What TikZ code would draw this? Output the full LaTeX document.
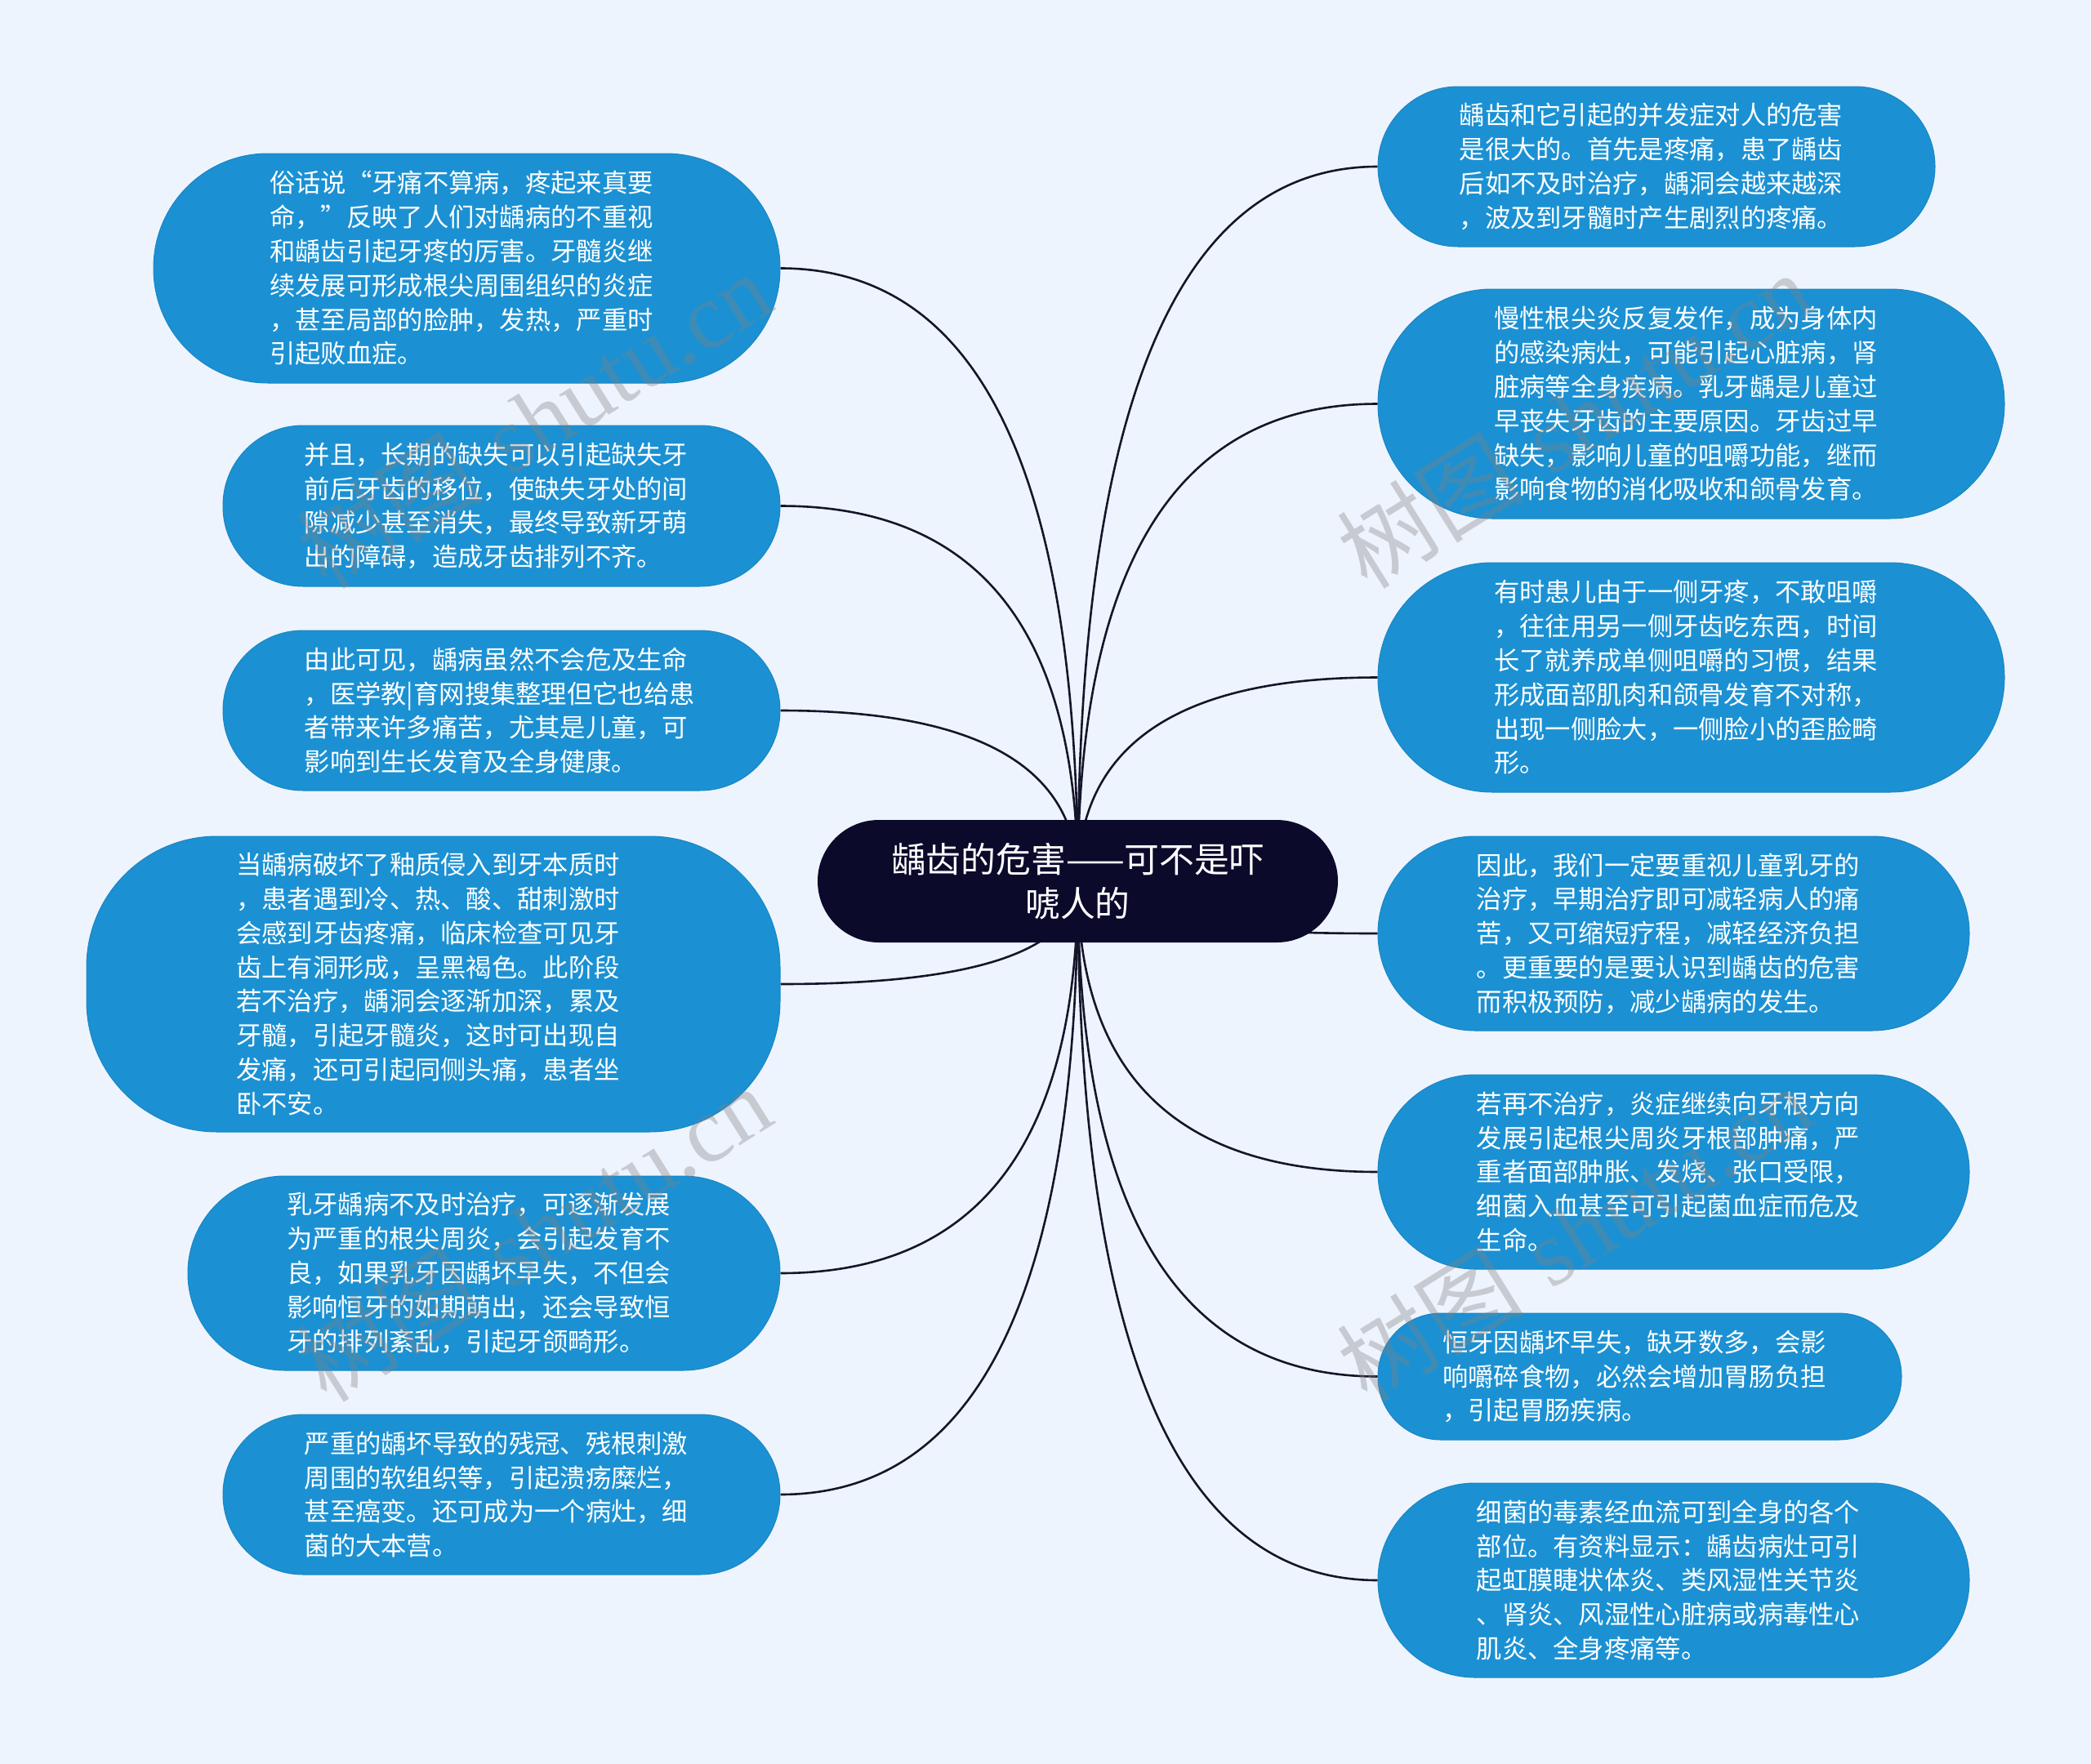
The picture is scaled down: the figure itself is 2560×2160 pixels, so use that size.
\documentclass[tikz,border=0pt]{standalone}
\usepackage{fontspec}
\usetikzlibrary{calc,backgrounds}
\newfontfamily\cjk{Noto Sans CJK SC}
\newfontfamily\wmlat{Liberation Serif}
\definecolor{pagebg}{HTML}{EEF4FD}
\definecolor{boxfill}{HTML}{1B91D3}
\definecolor{boxedge}{HTML}{1A86C4}
\definecolor{centerfill}{HTML}{0C0A2B}
\definecolor{linecol}{HTML}{15152A}
\newcommand\tpad{\hspace*{13pt}}
\tikzset{
  box/.style={draw=boxedge, line width=1pt, fill=boxfill, text=white, align=left,
    inner sep=0pt, font=\cjk\fontsize{31.3}{41.8}\selectfont},
  hub/.style={fill=centerfill, text=white, align=center, inner sep=0pt,
    minimum width=637pt, minimum height=150pt, rounded corners=75pt,
    font=\cjk\fontsize{42.8}{54}\selectfont},
  conn/.style={draw=linecol, line width=2.6pt},
  wm/.style={text=gray, text opacity=0.35, inner sep=0pt, rotate=32,
    font=\fontsize{115}{120}\selectfont}
}
\newcommand\linkto[1]{\draw[conn] (C.center) .. controls ($(C.center)!0.667!(C.center|-#1)$) and ($(#1)!0.667!(C.center|-#1)$) .. (#1);}
\begin{document}
\begin{tikzpicture}[x=1pt,y=-1pt]
\useasboundingbox (0,0) rectangle (2560,2160);
% centre
\node[hub] (C) at (1319.5,1079) {龋齿的危害——可不是吓\\唬人的};
% left boxes
\node[box, minimum width=767pt, minimum height=281pt, rounded corners=140pt] (L1) at (571.5,328.5)
 {俗话说“牙痛不算病，疼起来真要\tpad\\命，”反映了人们对龋病的不重视\\和龋齿引起牙疼的厉害。牙髓炎继\\续发展可形成根尖周围组织的炎症\\，甚至局部的脸肿，发热，严重时\\引起败血症。};
\node[box, minimum width=682pt, minimum height=197pt, rounded corners=98pt] (L2) at (614,619.5)
 {并且，长期的缺失可以引起缺失牙\tpad\\前后牙齿的移位，使缺失牙处的间\\隙减少甚至消失，最终导致新牙萌\\出的障碍，造成牙齿排列不齐。};
\node[box, minimum width=682pt, minimum height=196pt, rounded corners=98pt] (L3) at (614,870)
 {由此可见，龋病虽然不会危及生命\tpad\\，医学教|育网搜集整理但它也给患\\者带来许多痛苦，尤其是儿童，可\\影响到生长发育及全身健康。};
\node[box, minimum width=849pt, minimum height=362pt, rounded corners=160pt] (L4) at (530.5,1205)
 {当龋病破坏了釉质侵入到牙本质时\tpad\\，患者遇到冷、热、酸、甜刺激时\\会感到牙齿疼痛，临床检查可见牙\\齿上有洞形成，呈黑褐色。此阶段\\若不治疗，龋洞会逐渐加深，累及\\牙髓，引起牙髓炎，这时可出现自\\发痛，还可引起同侧头痛，患者坐\\卧不安。};
\node[box, minimum width=725pt, minimum height=238pt, rounded corners=119pt] (L5) at (592.5,1559)
 {乳牙龋病不及时治疗，可逐渐发展\tpad\\为严重的根尖周炎，会引起发育不\\良，如果乳牙因龋坏早失，不但会\\影响恒牙的如期萌出，还会导致恒\\牙的排列紊乱，引起牙颌畸形。};
\node[box, minimum width=682pt, minimum height=196pt, rounded corners=98pt] (L6) at (614,1830)
 {严重的龋坏导致的残冠、残根刺激\tpad\\周围的软组织等，引起溃疡糜烂，\\甚至癌变。还可成为一个病灶，细\\菌的大本营。};
% right boxes
\node[box, minimum width=682pt, minimum height=196pt, rounded corners=98pt] (R1) at (2028,204)
 {龋齿和它引起的并发症对人的危害\tpad\\是很大的。首先是疼痛，患了龋齿\\后如不及时治疗，龋洞会越来越深\\，波及到牙髓时产生剧烈的疼痛。};
\node[box, minimum width=767pt, minimum height=281pt, rounded corners=140pt] (R2) at (2070.5,494.5)
 {慢性根尖炎反复发作，成为身体内\tpad\\的感染病灶，可能引起心脏病，肾\\脏病等全身疾病。乳牙龋是儿童过\\早丧失牙齿的主要原因。牙齿过早\\缺失，影响儿童的咀嚼功能，继而\\影响食物的消化吸收和颌骨发育。};
\node[box, minimum width=767pt, minimum height=281pt, rounded corners=140pt] (R3) at (2070.5,829.5)
 {有时患儿由于一侧牙疼，不敢咀嚼\tpad\\，往往用另一侧牙齿吃东西，时间\\长了就养成单侧咀嚼的习惯，结果\\形成面部肌肉和颌骨发育不对称，\\出现一侧脸大，一侧脸小的歪脸畸\\形。};
\node[box, minimum width=724pt, minimum height=238pt, rounded corners=119pt] (R4) at (2049,1143)
 {因此，我们一定要重视儿童乳牙的\tpad\\治疗，早期治疗即可减轻病人的痛\\苦，又可缩短疗程，减轻经济负担\\。更重要的是要认识到龋齿的危害\\而积极预防，减少龋病的发生。};
\node[box, minimum width=724pt, minimum height=238pt, rounded corners=119pt] (R5) at (2049,1435)
 {若再不治疗，炎症继续向牙根方向\tpad\\发展引起根尖周炎牙根部肿痛，严\\重者面部肿胀、发烧、张口受限，\\细菌入血甚至可引起菌血症而危及\\生命。};
\node[box, minimum width=641pt, minimum height=155pt, rounded corners=77pt] (R6) at (2007.5,1685.5)
 {恒牙因龋坏早失，缺牙数多，会影\tpad\\响嚼碎食物，必然会增加胃肠负担\\，引起胃肠疾病。};
\node[box, minimum width=724pt, minimum height=238pt, rounded corners=119pt] (R7) at (2049,1935)
 {细菌的毒素经血流可到全身的各个\tpad\\部位。有资料显示：龋齿病灶可引\\起虹膜睫状体炎、类风湿性关节炎\\、肾炎、风湿性心脏病或病毒性心\\肌炎、全身疼痛等。};
% watermarks
\node[wm] (W1) at (653,514) {{\cjk 树图} {\wmlat shutu.cn}};
\node[wm] (W2) at (653,1510) {{\cjk 树图} {\wmlat shutu.cn}};
\node[wm] (W3) at (1927,514) {{\cjk 树图} {\wmlat shutu.cn}};
\node[wm] (W4) at (1927,1510) {{\cjk 树图} {\wmlat shutu.cn}};
\begin{pgfonlayer}{background}
\fill[pagebg] (0,0) rectangle (2560,2160);
\linkto{L1.east}\linkto{L2.east}\linkto{L3.east}\linkto{L4.east}\linkto{L5.east}\linkto{L6.east}
\linkto{R1.west}\linkto{R2.west}\linkto{R3.west}\linkto{R4.west}\linkto{R5.west}\linkto{R6.west}\linkto{R7.west}
\end{pgfonlayer}
\end{tikzpicture}
\end{document}
